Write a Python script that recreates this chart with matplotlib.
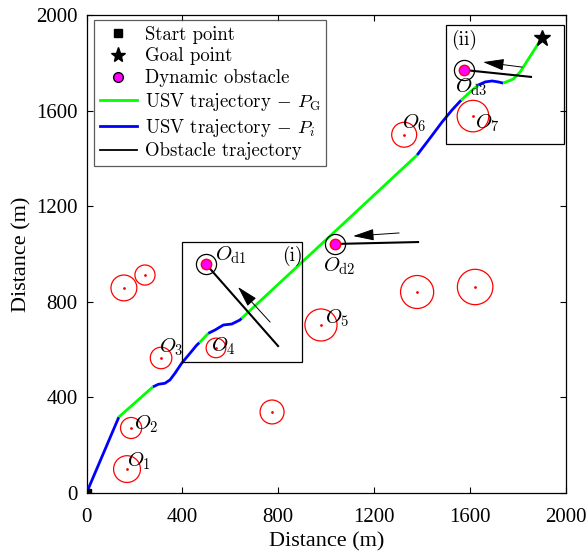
import numpy as np
import matplotlib
matplotlib.use("Agg")
import matplotlib.pyplot as plt
from matplotlib.lines import Line2D
from matplotlib.patches import Circle, Rectangle

plt.rcParams["font.family"] = ["Liberation Serif", "DejaVu Serif"]
plt.rcParams["mathtext.fontset"] = "cm"

# ---- scenario data (m) ----
start = (0, 0)
goal = (1900, 1905)

# USV path, split into segments by planner mode ("G" = P_G, "i" = P_i)
seg_modes = ["i", "G", "i", "G", "i", "G", "i", "G", "i", "G"]
seg_x = [
    [0, 135],
    [135, 277],
    [277, 300, 327, 348, 369, 397, 432, 460, 471],
    [471, 508],
    [508, 536, 571, 606, 640, 647],
    [647, 1379],
    [1379, 1433, 1483, 1525, 1563],
    [1563, 1600, 1634],
    [1634, 1663, 1692, 1717, 1738],
    [1738, 1780, 1809, 1900],
]
seg_y = [
    [0, 318],
    [318, 444],
    [444, 455, 459, 473, 501, 543, 585, 619, 629],
    [629, 668],
    [668, 682, 703, 707, 724, 731],
    [731, 1414],
    [1414, 1485, 1552, 1603, 1644],
    [1644, 1678, 1707],
    [1707, 1720, 1724, 1720, 1715],
    [1715, 1732, 1762, 1905],
]

# static obstacles: centre and radius
obs_x = [169, 186, 311, 540, 978, 1325, 1612, 1379, 1621, 156, 244, 774]
obs_y = [100, 272, 565, 607, 703, 1499, 1577, 841, 862, 858, 912, 339]
obs_r = [56, 44, 45, 41, 67, 52, 66, 69, 74, 54, 42, 50]
obs_names = ["$O_1$", "$O_2$", "$O_3$", "$O_4$", "$O_5$", "$O_6$", "$O_7$"]
obs_label_x = [171, 200, 301, 520, 993, 1317, 1619]
obs_label_y = [113, 264, 586, 594, 711, 1527, 1527]

# dynamic obstacles: current position, past trajectory end, heading arrow
dyn_x = [498, 1037, 1575]
dyn_y = [958, 1042, 1770]
dyn_trail_x = [799, 1383, 1854]
dyn_trail_y = [615, 1050, 1741]
arrow_from_x = [766, 1304, 1817]
arrow_from_y = [715, 1088, 1782]
arrow_to_x = [632, 1112, 1654]
arrow_to_y = [862, 1075, 1803]
dyn_names = [r"$O_{\rm d1}$", r"$O_{\rm d2}$", r"$O_{\rm d3}$"]
dyn_label_x = [534, 985, 1535]
dyn_label_y = [971, 926, 1674]

# zoom windows
win_x = [400, 1500]
win_y = [550, 1460]
win_w = [500, 490]
win_h = [500, 500]
win_names = ["(i)", "(ii)"]
win_label_x = [858, 1575]
win_label_y = [992, 1895]

ticks = [0, 400, 800, 1200, 1600, 2000]

fig = plt.figure(figsize=(5.88, 5.55), dpi=100)
ax = fig.add_axes([86.5 / 588, 62 / 555, 479.5 / 588, 478 / 555])

mode_color = {"G": "#00ff00", "i": "#0000ff"}
for m, xs, ys in zip(seg_modes, seg_x, seg_y):
    ax.plot(xs, ys, color=mode_color[m], lw=2.0, solid_capstyle="butt", zorder=3)

for cx, cy, r in zip(obs_x, obs_y, obs_r):
    ax.add_patch(Circle((cx, cy), r, fill=False, ec="red", lw=0.9, zorder=2))
    ax.plot(cx, cy, "o", color="red", ms=2, mec="none", zorder=2)
for name, tx, ty in zip(obs_names, obs_label_x, obs_label_y):
    ax.text(tx, ty, name, fontsize=15, ha="left", va="baseline", zorder=5)

for i in range(3):
    ax.plot([dyn_x[i], dyn_trail_x[i]], [dyn_y[i], dyn_trail_y[i]],
            color="black", lw=1.5, zorder=4)
    ax.annotate("", xy=(arrow_to_x[i], arrow_to_y[i]),
                xytext=(arrow_from_x[i], arrow_from_y[i]),
                arrowprops=dict(arrowstyle="-|>,head_length=1.3,head_width=0.36",
                                color="black", lw=0.7, shrinkA=0, shrinkB=0),
                zorder=4)
    ax.plot(dyn_x[i], dyn_y[i], "o", ms=14.5, mfc="none", mec="black", mew=0.9, zorder=5)
    ax.plot(dyn_x[i], dyn_y[i], "o", ms=7.5, mfc="#ff00ff", mec="red", mew=1.0, zorder=6)
    ax.text(dyn_label_x[i], dyn_label_y[i], dyn_names[i], fontsize=15,
            ha="left", va="baseline", zorder=6)

for x0, y0, w, h, name, lx, ly in zip(win_x, win_y, win_w, win_h,
                                      win_names, win_label_x, win_label_y):
    ax.add_patch(Rectangle((x0, y0), w, h, fill=False, ec="black", lw=0.9, zorder=4))
    ax.text(lx, ly, name, fontsize=14, family="cmr10", ha="center", va="center", zorder=6)

ax.plot(*start, "s", color="black", ms=6, zorder=7)
ax.plot(*goal, "*", color="black", ms=12, zorder=7)

ax.set_xlim(0, 2000)
ax.set_ylim(0, 2000)
ax.set_xticks(ticks)
ax.set_yticks(ticks)
ax.tick_params(direction="in", top=True, right=True, labelsize=15, length=4, width=0.8)
ax.tick_params(axis="x", pad=10.5)
ax.tick_params(axis="y", pad=6.5)
for s in ax.spines.values():
    s.set_linewidth(0.9)
ax.set_xlabel("Distance (m)", fontsize=16, labelpad=4)
ax.set_ylabel("Distance (m)", fontsize=16, labelpad=3)

handles = [
    Line2D([], [], ls="none", marker="s", color="black", ms=6),
    Line2D([], [], ls="none", marker="*", color="black", ms=11),
    Line2D([], [], ls="none", marker="o", mfc="#ff00ff", mec="black", ms=7),
    Line2D([], [], color="#00ff00", lw=2),
    Line2D([], [], color="#0000ff", lw=2),
    Line2D([], [], color="black", lw=1.3),
]
labels = ["Start point", "Goal point", "Dynamic obstacle",
          r"USV trajectory $-$ $P_{\rm G}$", r"USV trajectory $-$ $P_i$",
          "Obstacle trajectory"]
leg = ax.legend(handles, labels, loc="upper left", bbox_to_anchor=(0.0156, 0.9895),
                borderaxespad=0, prop={"family": "cmr10", "size": 13.5},
                frameon=True, fancybox=False,
                handlelength=2.0, handletextpad=0.4, labelspacing=0.2,
                borderpad=0.3)
leg.get_frame().set_edgecolor("#333333")
leg.get_frame().set_linewidth(0.9)
leg.set_zorder(8)

fig.savefig("out.png", dpi=100)
